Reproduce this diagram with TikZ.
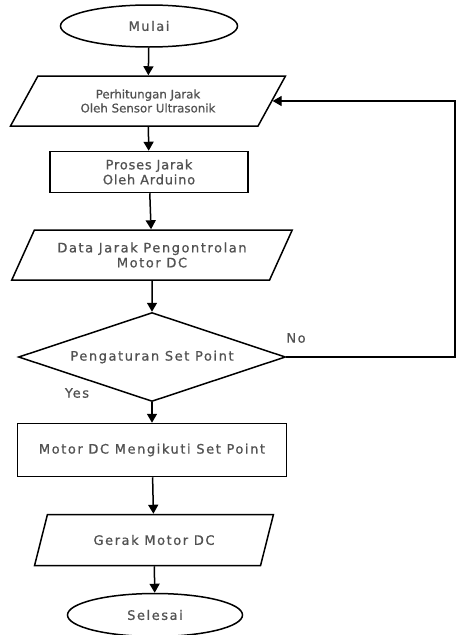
\documentclass[tikz,border=0pt]{standalone}
\usepackage{fontspec}
\setmainfont{DejaVu Sans}[FakeBold=0.8]
\newfontfamily\flowfont[LetterSpace=12,FakeBold=0.8]{DejaVu Sans}
\usetikzlibrary{shapes.geometric,arrows.meta}

\begin{document}
\begin{tikzpicture}[x=1pt,y=-1pt,line width=1.5pt,
  every node/.style={font=\flowfont\fontsize{13}{15}\selectfont,text=black!68},
  terminal/.style={draw,ellipse,inner sep=0pt},
  iobox/.style={draw,trapezium,trapezium stretches=true,trapezium left angle=54,
    trapezium right angle=126,inner sep=0pt,align=center,minimum height=50pt},
  procbox/.style={draw,rectangle,inner sep=0pt,align=center},
  decision/.style={draw,diamond,aspect=3,inner sep=0pt},
  flow/.style={-{Triangle[length=9pt,width=10pt]}}]
  \useasboundingbox (0,0) rectangle (457,635);
  \node[terminal,minimum width=177pt,minimum height=42pt] (mulai) at (149,26) {Mulai};
  \node[iobox,minimum width=275pt,font=\rmfamily\fontsize{11.8}{14}\selectfont] (hitung) at (148,101)
    {Perhitungan Jarak\\Oleh Sensor Ultrasonik};
  \node[procbox,minimum width=198pt,minimum height=41pt,
    font=\flowfont\addfontfeature{LetterSpace=6}\fontsize{13}{15}\selectfont] (proses) at (149,172)
    {Proses Jarak\\Oleh Arduino};
  \node[iobox,minimum width=281pt] (data) at (152,255)
    {Data Jarak Pengontrolan\\Motor DC};
  \node[decision,minimum width=267pt,minimum height=89pt] (atur) at (152,357)
    {Pengaturan Set Point};
  \node[procbox,minimum width=269pt,minimum height=53pt] (ikuti) at (152,450)
    {Motor DC Mengikuti Set Point};
  \node[iobox,minimum width=239pt,minimum height=51pt] (gerak) at (154,540)
    {Gerak Motor DC};
  \node[terminal,minimum width=175pt,minimum height=43pt] (selesai) at (155,615) {Selesai};
  \coordinate (balik) at (455,357);
  \node (no) at (296,338) {No};
  \node (yes) at (77,393) {Yes};
  % alur utama
  \draw[flow] (mulai) -- (hitung);
  \draw[flow] (hitung) -- (proses);
  \draw[flow] (proses) -- (data);
  \draw[flow] (data) -- (atur);
  \draw[flow] (atur) -- (ikuti);
  \draw[flow] (ikuti) -- (gerak);
  \draw[flow] (gerak) -- (selesai);
  % kembali jika No
  \draw[flow,line width=1.2pt] (atur.east) -- (balik) |- (hitung.east);
\end{tikzpicture}
\end{document}
